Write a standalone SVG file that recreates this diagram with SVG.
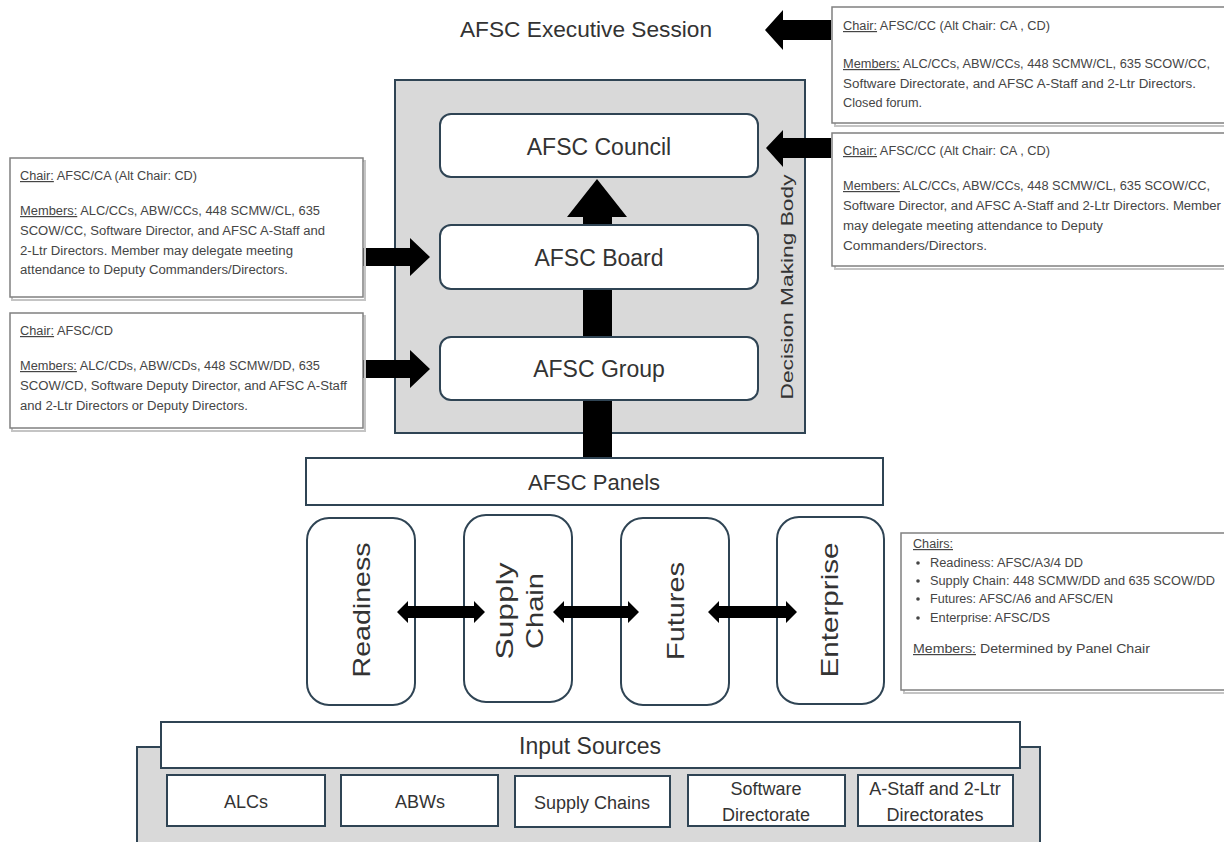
<svg xmlns="http://www.w3.org/2000/svg" width="1224" height="842" viewBox="0 0 1224 842">
<style>
text{font-family:"Liberation Sans",Arial,sans-serif}
.lbl{fill:#333;text-anchor:middle}
.box{fill:#fff;stroke:#2f4454;stroke-width:2}
.cont{fill:#d9d9d9;stroke:#2f4454;stroke-width:2}
.note{fill:#fff;stroke:#808080;stroke-width:1.5}
.shadow{fill:none;stroke:#c4c4c4;stroke-width:2}
.nt{font-size:12px;fill:#454545}
.u{text-decoration:underline}
.arr{fill:#000}
</style>
<rect width="1224" height="842" fill="#fff"/>

<g id="title">
<text class="lbl" x="586" y="37" font-size="22" textLength="252" lengthAdjust="spacingAndGlyphs">AFSC Executive Session</text>
</g>

<g id="decision-making-body">
<rect class="cont" x="395" y="80" width="410" height="353"/>
<text class="lbl" font-size="16" fill="#404040" transform="translate(793,287) rotate(-90)" textLength="225" lengthAdjust="spacingAndGlyphs">Decision Making Body</text>
</g>

<g id="input-sources-container">
<rect class="cont" x="137" y="747" width="903" height="100"/>
</g>

<g id="afsc-council">
<rect class="box" x="440" y="114" width="318" height="63" rx="11"/>
<text class="lbl" x="599" y="155" font-size="23">AFSC Council</text>
</g>
<g id="afsc-board">
<rect class="box" x="440" y="225" width="318" height="64" rx="11"/>
<text class="lbl" x="599" y="266" font-size="23">AFSC Board</text>
</g>
<g id="afsc-group">
<rect class="box" x="440" y="337" width="318" height="63" rx="11"/>
<text class="lbl" x="599" y="377" font-size="23">AFSC Group</text>
</g>

<g id="afsc-panels">
<rect class="box" x="306" y="458" width="577" height="47"/>
<text class="lbl" x="594" y="490" font-size="22">AFSC Panels</text>
</g>

<g id="panel-readiness">
<rect class="box" x="307" y="518" width="108" height="187" rx="22"/>
<text class="lbl" font-size="24" transform="translate(370,610) rotate(-90)" textLength="135" lengthAdjust="spacingAndGlyphs">Readiness</text>
</g>
<g id="panel-supply-chain">
<rect class="box" x="464" y="515" width="108" height="187" rx="22"/>
<text class="lbl" font-size="24" transform="translate(513,611) rotate(-90)" textLength="97" lengthAdjust="spacingAndGlyphs">Supply</text>
<text class="lbl" font-size="24" transform="translate(543,611) rotate(-90)" textLength="76" lengthAdjust="spacingAndGlyphs">Chain</text>
</g>
<g id="panel-futures">
<rect class="box" x="621" y="518" width="108" height="187" rx="22"/>
<text class="lbl" font-size="24" transform="translate(684,611) rotate(-90)" textLength="98" lengthAdjust="spacingAndGlyphs">Futures</text>
</g>
<g id="panel-enterprise">
<rect class="box" x="777" y="517" width="107" height="187" rx="22"/>
<text class="lbl" font-size="24" transform="translate(838,610) rotate(-90)" textLength="135" lengthAdjust="spacingAndGlyphs">Enterprise</text>
</g>

<g id="input-sources">
<rect class="box" x="161" y="722" width="859" height="46"/>
<text class="lbl" x="590" y="754" font-size="23">Input Sources</text>
</g>
<g id="src-alcs">
<rect class="box" x="167" y="775" width="158" height="51"/>
<text class="lbl" x="246" y="808" font-size="18">ALCs</text>
</g>
<g id="src-abws">
<rect class="box" x="341" y="775" width="157" height="51"/>
<text class="lbl" x="420" y="808" font-size="18">ABWs</text>
</g>
<g id="src-supply-chains">
<rect class="box" x="515" y="776" width="155" height="51"/>
<text class="lbl" x="592" y="809" font-size="18">Supply Chains</text>
</g>
<g id="src-software">
<rect class="box" x="688" y="775" width="157" height="51"/>
<text class="lbl" x="766" y="795" font-size="18">Software</text>
<text class="lbl" x="766" y="821" font-size="18">Directorate</text>
</g>
<g id="src-astaff">
<rect class="box" x="858" y="775" width="155" height="51"/>
<text class="lbl" x="935" y="795" font-size="18">A-Staff and 2-Ltr</text>
<text class="lbl" x="935" y="821" font-size="18">Directorates</text>
</g>

<g id="connectors">
<polygon class="arr" points="831,20 783,20 783,10 765,30 783,50 783,40 831,40"/>
<polygon class="arr" points="831,138 783,138 783,130 766,148 783,167 783,158 831,158"/>
<polygon class="arr" points="362,248 410,248 410,238 430,257 410,276 410,266 362,266"/>
<polygon class="arr" points="362,360 410,360 410,350 430,369 410,388 410,378 362,378"/>
<rect class="arr" x="583" y="401" width="29" height="56"/>
<rect class="arr" x="583" y="290" width="29" height="46"/>
<polygon class="arr" points="583,224 583,217 567,217 597,179 627,217 612,217 612,224"/>
<polygon class="arr" points="397,612 408,601 408,606 474,606 474,601 485,612 474,623 474,618 408,618 408,623"/>
<polygon class="arr" points="553,612 564,601 564,606 628,606 628,601 639,612 628,623 628,618 564,618 564,623"/>
<polygon class="arr" points="708,612 719,601 719,606 786,606 786,601 797,612 786,623 786,618 719,618 719,623"/>
</g>

<g id="note-executive">
<rect class="shadow" x="835" y="10" width="400" height="116"/>
<rect class="note" x="832" y="7" width="400" height="116"/>
<text class="nt" x="843" y="30" textLength="207" lengthAdjust="spacingAndGlyphs"><tspan class="u">Chair:</tspan> AFSC/CC (Alt Chair: CA , CD)</text>
<text class="nt" x="843" y="68" textLength="367" lengthAdjust="spacingAndGlyphs"><tspan class="u">Members:</tspan> ALC/CCs, ABW/CCs, 448 SCMW/CL, 635 SCOW/CC,</text>
<text class="nt" x="843" y="88" textLength="353" lengthAdjust="spacingAndGlyphs">Software Directorate, and AFSC A-Staff and 2-Ltr Directors.</text>
<text class="nt" x="843" y="107" textLength="79" lengthAdjust="spacingAndGlyphs">Closed forum.</text>
</g>

<g id="note-council">
<rect class="shadow" x="835" y="136" width="400" height="133"/>
<rect class="note" x="832" y="133" width="400" height="133"/>
<text class="nt" x="843" y="155" textLength="207" lengthAdjust="spacingAndGlyphs"><tspan class="u">Chair:</tspan> AFSC/CC (Alt Chair: CA , CD)</text>
<text class="nt" x="843" y="190" textLength="367" lengthAdjust="spacingAndGlyphs"><tspan class="u">Members:</tspan> ALC/CCs, ABW/CCs, 448 SCMW/CL, 635 SCOW/CC,</text>
<text class="nt" x="843" y="210" textLength="378" lengthAdjust="spacingAndGlyphs">Software Director, and AFSC A-Staff and 2-Ltr Directors. Member</text>
<text class="nt" x="843" y="230" textLength="260" lengthAdjust="spacingAndGlyphs">may delegate meeting attendance to Deputy</text>
<text class="nt" x="843" y="250" textLength="144" lengthAdjust="spacingAndGlyphs">Commanders/Directors.</text>
</g>

<g id="note-board">
<rect class="shadow" x="12" y="161" width="353" height="139"/>
<rect class="note" x="10" y="158" width="353" height="139"/>
<text class="nt" x="20" y="180" textLength="177" lengthAdjust="spacingAndGlyphs"><tspan class="u">Chair:</tspan> AFSC/CA (Alt Chair: CD)</text>
<text class="nt" x="20" y="215" textLength="300" lengthAdjust="spacingAndGlyphs"><tspan class="u">Members:</tspan> ALC/CCs, ABW/CCs, 448 SCMW/CL, 635</text>
<text class="nt" x="20" y="235" textLength="305" lengthAdjust="spacingAndGlyphs">SCOW/CC, Software Director, and AFSC A-Staff and</text>
<text class="nt" x="20" y="255" textLength="273" lengthAdjust="spacingAndGlyphs">2-Ltr Directors. Member may delegate meeting</text>
<text class="nt" x="20" y="274" textLength="268" lengthAdjust="spacingAndGlyphs">attendance to Deputy Commanders/Directors.</text>
</g>

<g id="note-group">
<rect class="shadow" x="12" y="316" width="353" height="115"/>
<rect class="note" x="10" y="313" width="353" height="115"/>
<text class="nt" x="20" y="335" textLength="93" lengthAdjust="spacingAndGlyphs"><tspan class="u">Chair:</tspan> AFSC/CD</text>
<text class="nt" x="20" y="370" textLength="300" lengthAdjust="spacingAndGlyphs"><tspan class="u">Members:</tspan> ALC/CDs, ABW/CDs, 448 SCMW/DD, 635</text>
<text class="nt" x="20" y="390" textLength="327" lengthAdjust="spacingAndGlyphs">SCOW/CD, Software Deputy Director, and AFSC A-Staff</text>
<text class="nt" x="20" y="410" textLength="228" lengthAdjust="spacingAndGlyphs">and 2-Ltr Directors or Deputy Directors.</text>
</g>

<g id="note-panels">
<rect class="shadow" x="904" y="536" width="340" height="157"/>
<rect class="note" x="901" y="533" width="340" height="157"/>
<text class="nt" x="913" y="548" textLength="40" lengthAdjust="spacingAndGlyphs"><tspan class="u">Chairs:</tspan></text>
<g fill="#454545">
<circle cx="918" cy="563" r="1.8"/>
<circle cx="918" cy="581" r="1.8"/>
<circle cx="918" cy="599" r="1.8"/>
<circle cx="918" cy="618" r="1.8"/>
</g>
<text class="nt" x="930" y="567" textLength="153" lengthAdjust="spacingAndGlyphs">Readiness: AFSC/A3/4 DD</text>
<text class="nt" x="930" y="585" textLength="285" lengthAdjust="spacingAndGlyphs">Supply Chain: 448 SCMW/DD and 635 SCOW/DD</text>
<text class="nt" x="930" y="603" textLength="183" lengthAdjust="spacingAndGlyphs">Futures: AFSC/A6 and AFSC/EN</text>
<text class="nt" x="930" y="622" textLength="120" lengthAdjust="spacingAndGlyphs">Enterprise: AFSC/DS</text>
<text class="nt" x="913" y="653" textLength="237" lengthAdjust="spacingAndGlyphs"><tspan class="u">Members:</tspan> Determined by Panel Chair</text>
</g>
</svg>
